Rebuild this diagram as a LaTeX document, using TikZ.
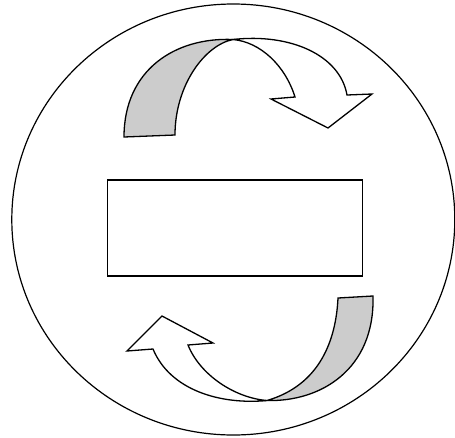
\documentclass[tikz,border=0pt]{standalone}
\usetikzlibrary{shapes.geometric}
\begin{document}
\begin{tikzpicture}[x=1pt,y=-1pt,
  outline/.style={draw=black,line width=1.3pt,line join=miter},
  grayband/.style={outline,fill=black!20},
  whiteband/.style={outline,fill=white}]
\useasboundingbox (0,0) rectangle (455,437);
\node[draw=black,line width=1.2pt,ellipse,minimum width=443pt,minimum height=431pt,inner sep=0pt] (circ) at (233.3,219.5) {};
\node[draw=black,line width=1.3pt,minimum width=255pt,minimum height=96pt,inner sep=0pt] (box) at (234.8,228) {};
% top arrow
\coordinate (ct) at (233,39.5);
\draw[grayband] (124,137) .. controls (124,70) and (175,37) .. (ct)
  .. controls (205,45) and (175,85) .. (175,135) -- cycle;
\draw[whiteband] (ct) .. controls (290,33) and (340,55) .. (347,95)
  -- (372,94) -- (328,128) -- (271,99) -- (295,97)
  .. controls (285,65) and (260,42) .. (ct) -- cycle;
% bottom arrow
\coordinate (cb) at (267,400.5);
\draw[grayband] (338,298) -- (373,296) .. controls (375,370) and (320,402) .. (cb)
  .. controls (320,385) and (336,340) .. (338,298) -- cycle;
\draw[whiteband] (cb) .. controls (220,405) and (170,390) .. (153,349)
  -- (127,351) -- (162,316) -- (213,343) -- (188,345)
  .. controls (200,375) and (235,398) .. (cb) -- cycle;
\end{tikzpicture}
\end{document}
